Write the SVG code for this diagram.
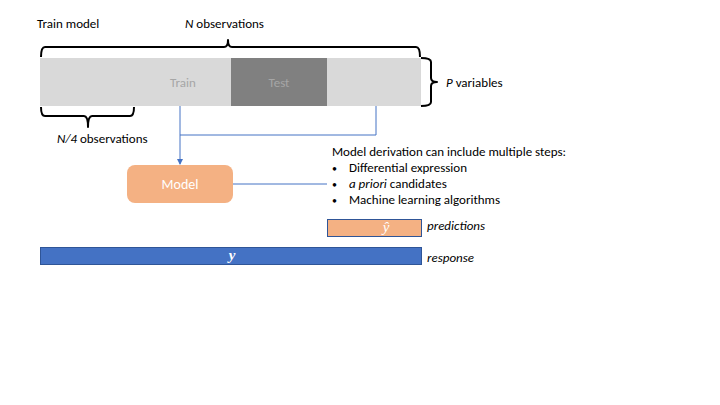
<svg xmlns="http://www.w3.org/2000/svg" width="720" height="405" viewBox="0 0 720 405">
<defs>
<style>
text{font-family:Calibri,Carlito,"Liberation Sans",Arial,sans-serif;font-size:13px;fill:#000}
.brace{fill:none;stroke:#000;stroke-width:2;stroke-linejoin:round}
.conn{fill:none;stroke:#4472C4;stroke-width:1}
.it{font-style:italic}
.bul{font-size:10px}
.math{fill:#fff;font-family:'Liberation Serif',serif;font-style:italic;font-size:15px}
</style>
<marker id="ah" markerWidth="6" markerHeight="6" refX="5" refY="3" orient="auto" markerUnits="userSpaceOnUse">
<path d="M0,0 L6,3 L0,6 z" fill="#4472C4"/>
</marker>
</defs>
<rect width="720" height="405" fill="#fff"/>
<text x="37" y="28">Train model</text>
<text x="185" y="28"><tspan class="it">N</tspan> observations</text>
<g id="data">
<rect x="40" y="58" width="381" height="48" fill="#D9D9D9"/>
<rect x="231" y="58" width="96" height="48" fill="#808080"/>
<text x="183" y="87" text-anchor="middle" style="fill:#A6A6A6">Train</text>
<text x="279" y="87" text-anchor="middle" style="fill:#A6A6A6">Test</text>
</g>
<g id="braces">
<path class="brace" d="M41,57 Q41,47 45,47 L224,47 Q228,47 228,40 Q228,47 232,47 L416,47 Q420,47 420,57"/>
<path class="brace" d="M421,58 Q431,58 431,62 L431,78 Q431,82 437,82 Q431,82 431,86 L431,102 Q431,106 421,106"/>
<path class="brace" d="M41,107 Q41,116 45,116 L84,116 Q88,116 88,127 Q88,116 92,116 L130,116 Q134,116 134,107"/>
</g>
<text x="446" y="87"><tspan class="it">P</tspan> variables</text>
<text x="57" y="143"><tspan class="it">N/4</tspan> observations</text>
<g id="connectors">
<path class="conn" d="M180,106 L180,164" marker-end="url(#ah)"/>
<path class="conn" d="M180,135 L376,135 L376,106"/>
<path class="conn" d="M233,184 L327,184"/>
</g>
<g id="model">
<rect x="127" y="165" width="106" height="38" rx="8" fill="#F4B183"/>
<text x="180" y="189" text-anchor="middle" style="fill:#fff;font-size:14px">Model</text>
</g>
<g id="steps">
<text x="332" y="156">Model derivation can include multiple steps:</text>
<text x="332" y="172" class="bul">•</text><text x="349" y="172">Differential expression</text>
<text x="332" y="188" class="bul">•</text><text x="349" y="188"><tspan class="it">a priori</tspan> candidates</text>
<text x="332" y="204" class="bul">•</text><text x="349" y="204">Machine learning algorithms</text>
</g>
<g id="predictions">
<rect x="327.5" y="219.5" width="94" height="17" fill="#F4B183" stroke="#2F5597" stroke-width="1"/>
<text x="386" y="232" text-anchor="middle" class="math">ŷ</text>
</g>
<text x="427" y="230" class="it">predictions</text>
<g id="response">
<rect x="40.5" y="247.5" width="381" height="17" fill="#4472C4" stroke="#2F5597" stroke-width="1"/>
<text x="232" y="260" text-anchor="middle" class="math" style="font-weight:bold">y</text>
</g>
<text x="427" y="262" class="it">response</text>
</svg>
